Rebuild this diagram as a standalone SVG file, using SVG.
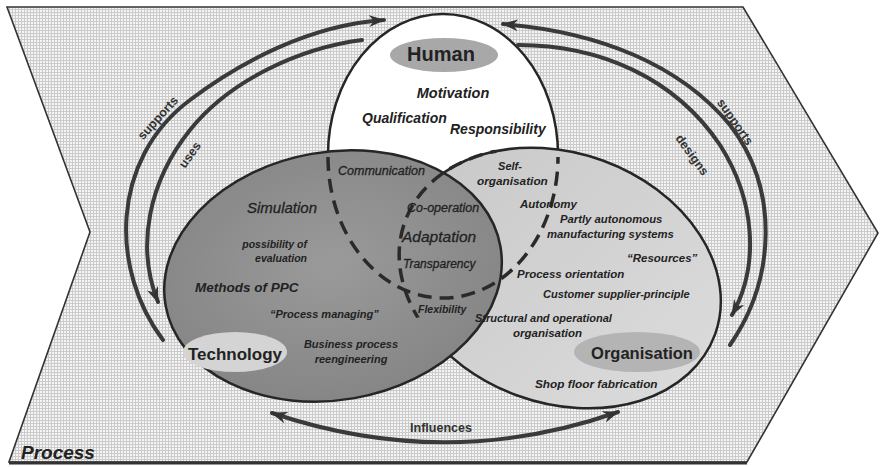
<svg xmlns="http://www.w3.org/2000/svg" width="880" height="467" viewBox="0 0 880 467">
  <defs>
    <pattern id="grid" width="3" height="3" patternUnits="userSpaceOnUse">
      <rect width="3" height="3" fill="#f4f4f4"/>
      <rect width="3" height="1" fill="#cbcbcb"/>
      <rect width="1" height="3" fill="#cbcbcb"/>
    </pattern>
    <radialGradient id="techFill" cx="0.5" cy="0.45" r="0.6">
      <stop offset="0" stop-color="#9a9a9a"/>
      <stop offset="1" stop-color="#848484"/>
    </radialGradient>
    <linearGradient id="orgFill" x1="0" y1="0.2" x2="1" y2="0.6">
      <stop offset="0" stop-color="#c9c9c9"/>
      <stop offset="1" stop-color="#dadada"/>
    </linearGradient>
    <clipPath id="techClip">
      <ellipse cx="333" cy="276" rx="170" ry="124" transform="rotate(-10 333 276)"/>
    </clipPath>
    <marker id="head" viewBox="0 0 16 12" refX="15" refY="6" markerWidth="16" markerHeight="12" markerUnits="userSpaceOnUse" orient="auto-start-reverse">
      <path d="M0,0 L16,6 L0,12 L5,6 z" fill="#333"/>
    </marker>
    <style>
      text { font-family: "Liberation Sans", Arial, sans-serif; fill: #222; }
      .outline { stroke: #262626; stroke-width: 2.5; }
      .dash { fill: none; stroke: #2a2a2a; stroke-width: 3.5; stroke-dasharray: 14 8; }
      .arc { fill: none; stroke: #3a3a3a; stroke-width: 4; stroke-linecap: round; }
      .bi { font-weight: bold; font-style: italic; }
      .it { font-style: italic; stroke: #222; stroke-width: 0.3; }
      .lbl { font-weight: bold; }
      .verb { font-weight: bold; fill: #333; font-size: 12.5px; }
    </style>
  </defs>

  <!-- process chevron frame -->
  <g id="process">
    <polygon points="7,7 743,7 878,233 747,462 9,462 90,232" fill="url(#grid)" stroke="#333" stroke-width="1.6"/>
    <line x1="9" y1="463" x2="747" y2="463" stroke="#333" stroke-width="3"/>
    <text x="21" y="459" class="bi" font-size="19">Process</text>
  </g>

  <!-- human circle (upper part visible) -->
  <g id="node-human">
    <ellipse cx="443" cy="155" rx="115" ry="141" fill="#fff" class="outline"/>
  </g>

  <!-- organisation ellipse -->
  <g id="node-organisation">
    <ellipse cx="560" cy="278" rx="165" ry="125" transform="rotate(20 560 278)" fill="url(#orgFill)" class="outline"/>
  </g>

  <!-- technology ellipse -->
  <g id="node-technology">
    <ellipse cx="333" cy="276" rx="170" ry="124" transform="rotate(-10 333 276)" fill="url(#techFill)" class="outline"/>
  </g>

  <!-- hidden boundaries drawn dashed -->
  <g id="hidden-edges">
    <ellipse cx="560" cy="278" rx="165" ry="125" transform="rotate(20 560 278)" class="dash" clip-path="url(#techClip)"/>
    <path d="M328,157 A115,141 0 0 0 558,157" class="dash"/>
  </g>

  <!-- human texts -->
  <g id="human-texts">
    <ellipse cx="444" cy="55" rx="54" ry="17" fill="#a8a8a8"/>
    <text x="441" y="61" text-anchor="middle" class="lbl" font-size="20">Human</text>
    <text x="453" y="98" text-anchor="middle" class="bi" font-size="14.5">Motivation</text>
    <text x="362" y="123" class="bi" font-size="14">Qualification</text>
    <text x="450" y="134" class="bi" font-size="14">Responsibility</text>
  </g>

  <!-- technology texts -->
  <g id="technology-texts">
    <text x="247" y="213" class="it" font-size="15">Simulation</text>
    <text x="307" y="248" text-anchor="end" class="bi" font-size="10.5">possibility of</text>
    <text x="307" y="262" text-anchor="end" class="bi" font-size="10.5">evaluation</text>
    <text x="195" y="292" class="bi" font-size="13.5">Methods of PPC</text>
    <text x="270" y="318" class="bi" font-size="11">“Process managing”</text>
    <text x="351" y="348" text-anchor="middle" class="bi" font-size="11">Business process</text>
    <text x="351" y="363" text-anchor="middle" class="bi" font-size="11">reengineering</text>
    <ellipse cx="235" cy="352" rx="52" ry="20" fill="#d4d4d4"/>
    <text x="235" y="360" text-anchor="middle" class="lbl" font-size="17">Technology</text>
  </g>

  <!-- overlap texts -->
  <g id="overlap-texts">
    <text x="338" y="175" class="it" font-size="12.5">Communication</text>
    <text x="407" y="212" class="it" font-size="12.5">Co-operation</text>
    <text x="402" y="242" class="it" font-size="15.5">Adaptation</text>
    <text x="403" y="268" class="it" font-size="12">Transparency</text>
    <text x="418" y="313" class="bi" font-size="10.5">Flexibility</text>
  </g>

  <!-- organisation texts -->
  <g id="organisation-texts">
    <text x="510" y="170" text-anchor="middle" class="bi" font-size="11">Self-</text>
    <text x="477" y="185" class="bi" font-size="11.8">organisation</text>
    <text x="520" y="208" class="bi" font-size="11.5">Autonomy</text>
    <text x="560" y="223" class="bi" font-size="11.3">Partly autonomous</text>
    <text x="547" y="238" class="bi" font-size="11.3">manufacturing systems</text>
    <text x="627" y="262" class="bi" font-size="11.5">“Resources”</text>
    <text x="517" y="278" class="bi" font-size="11.5">Process orientation</text>
    <text x="543" y="298" class="bi" font-size="11">Customer supplier-principle</text>
    <text x="475" y="322" class="bi" font-size="11">Structural and operational</text>
    <text x="513" y="337" class="bi" font-size="11.5">organisation</text>
    <ellipse cx="637" cy="352" rx="63" ry="20" fill="#b4b4b4"/>
    <text x="642" y="359" text-anchor="middle" class="lbl" font-size="16.5">Organisation</text>
    <text x="535" y="388" class="bi" font-size="11.8">Shop floor fabrication</text>
  </g>

  <!-- connectors -->
  <g id="connectors">
    <path d="M163,340 C110,270 110,160 190,100 C240,62 310,25 384,20" class="arc" marker-end="url(#head)"/>
    <path d="M362,40 C300,48 230,80 190,130 C150,180 135,245 158,302" class="arc" marker-end="url(#head)"/>
    <path d="M730,345 C775,280 780,190 730,125 C680,65 600,32 503,24" class="arc" marker-end="url(#head)"/>
    <path d="M518,45 C600,45 675,78 720,145 C755,200 760,265 732,315" class="arc" marker-end="url(#head)"/>
    <path d="M272,413 Q447,472 618,412" class="arc" marker-start="url(#head)" marker-end="url(#head)"/>
    <text transform="translate(158 118) rotate(-48)" y="4" text-anchor="middle" class="verb">supports</text>
    <text transform="translate(190 155) rotate(-55)" y="4" text-anchor="middle" class="verb">uses</text>
    <text transform="translate(735 122) rotate(55)" y="4" text-anchor="middle" class="verb">supports</text>
    <text transform="translate(692 155) rotate(54)" y="4" text-anchor="middle" class="verb">designs</text>
    <text x="441" y="432" text-anchor="middle" class="verb" font-size="14">Influences</text>
  </g>
</svg>
